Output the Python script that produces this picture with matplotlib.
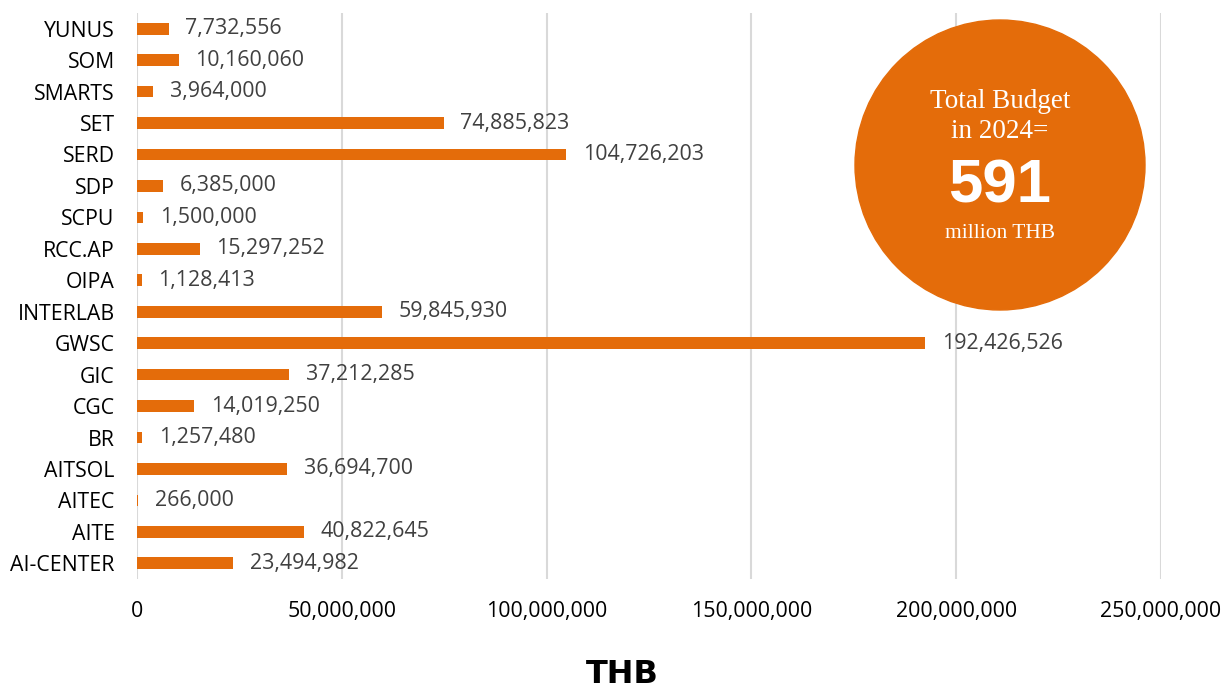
import matplotlib.pyplot as plt
from matplotlib.patches import Circle
from matplotlib.ticker import FuncFormatter

units = ['YUNUS', 'SOM', 'SMARTS', 'SET', 'SERD', 'SDP', 'SCPU', 'RCC.AP', 'OIPA',
         'INTERLAB', 'GWSC', 'GIC', 'CGC', 'BR', 'AITSOL', 'AITEC', 'AITE', 'AI-CENTER']
budget = [7732556, 10160060, 3964000, 74885823, 104726203, 6385000, 1500000, 15297252,
          1128413, 59845930, 192426526, 37212285, 14019250, 1257480, 36694700, 266000,
          40822645, 23494982]
total_text = ['Total Budget', 'in 2024=', '591', 'million THB']

orange = '#E46C0A'
W, H = 1231, 691
fig = plt.figure(figsize=(W / 100, H / 100), dpi=100)
ax = fig.add_axes([137 / W, 1 - 579 / H, (1161 - 137) / W, 566 / H])

ypos = list(range(len(units)))
ax.barh(ypos, budget, height=0.37, color=orange, zorder=2)
for y, v in zip(ypos, budget):
    ax.annotate(f'{v:,}', (v, y), xytext=(12, 0), textcoords='offset points',
                va='center', ha='left', fontsize=15.4, color='#404040', family='Open Sans')

ax.set_ylim(len(units) - 0.5, -0.5)
ax.set_xlim(0, 250_000_000)
ax.set_yticks(ypos)
ax.set_yticklabels(units, fontsize=15.3, family='Open Sans')
ax.set_xticks(range(0, 250_000_001, 50_000_000))
ax.xaxis.set_major_formatter(FuncFormatter(lambda v, p: f'{int(v):,}'))
for lab in ax.get_xticklabels():
    lab.set_fontsize(15.4)
    lab.set_family('Open Sans')
ax.tick_params(axis='both', length=0)
ax.tick_params(axis='x', pad=16)
ax.tick_params(axis='y', pad=16)
ax.grid(axis='x', color='#d9d9d9', lw=1.5, zorder=0)
for s in ax.spines.values():
    s.set_visible(False)

# total budget bubble
cx, cy, r = 1000, 165, 145
fig.add_artist(Circle((cx / 100, (H - cy) / 100), r / 100, color=orange,
                      transform=fig.dpi_scale_trans, zorder=5))
fig.text(cx / W, 1 - 101 / H, total_text[0], ha='center', va='center', color='white',
         fontsize=19.5, family='Liberation Serif', zorder=6)
fig.text(cx / W, 1 - 132 / H, total_text[1], ha='center', va='center', color='white',
         fontsize=19.5, family='Liberation Serif', zorder=6)
fig.text(cx / W, 1 - 187 / H, total_text[2], ha='center', va='center', color='white',
         fontsize=44.5, weight='bold', family='Liberation Sans', zorder=6)
fig.text(cx / W, 1 - 233 / H, total_text[3], ha='center', va='center', color='white',
         fontsize=15.5, family='Liberation Serif', zorder=6)

fig.text(622 / W, 1 / H, 'THB', ha='center', va='bottom', fontsize=23,
         weight='heavy', family='DejaVu Sans')

plt.savefig('out.png', dpi=100)
